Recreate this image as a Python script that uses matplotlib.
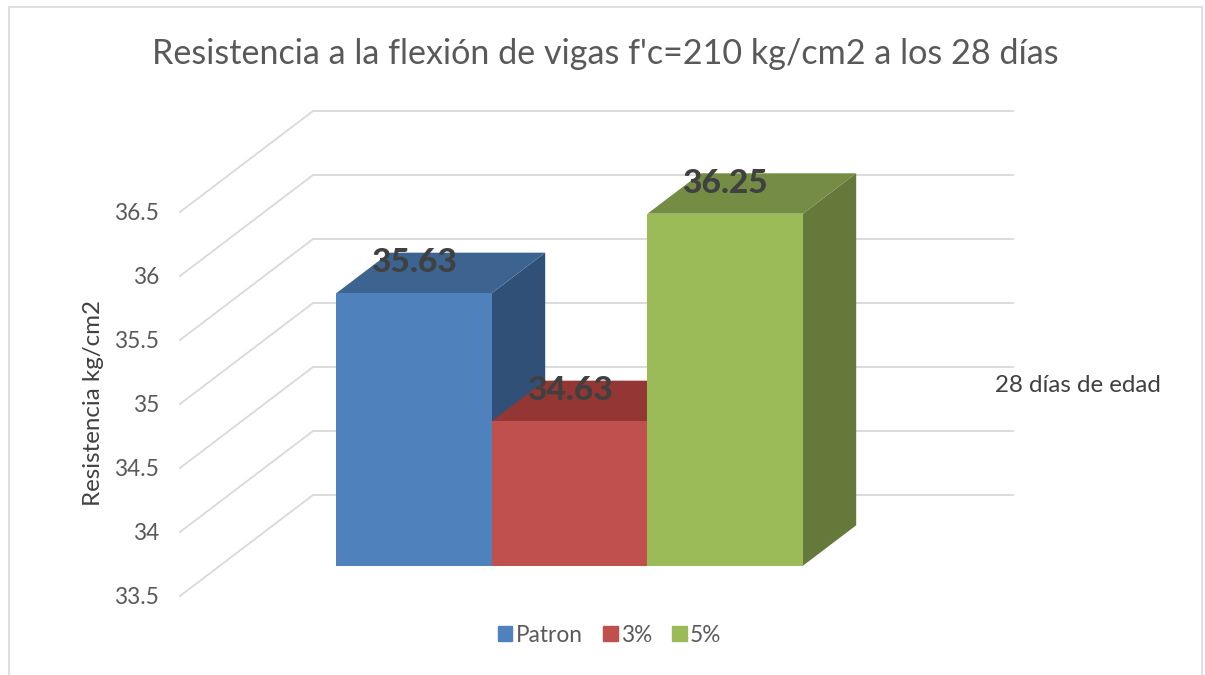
import matplotlib
matplotlib.use("Agg")
import matplotlib.pyplot as plt
from matplotlib.patches import Patch, Rectangle

plt.rcParams['font.family'] = ['Lato', 'DejaVu Sans']

title = "Resistencia a la flexión de vigas f'c=210 kg/cm2 a los 28 días"
ylabel = "Resistencia kg/cm2"
category = "28 días de edad"
series = ["Patron", "3%", "5%"]
values = [35.63, 34.63, 36.25]
labels = ["35.63", "34.63", "36.25"]
yticks = [33.5, 34, 34.5, 35, 35.5, 36, 36.5]
ytick_labels = ["33.5", "34", "34.5", "35", "35.5", "36", "36.5"]
face = ["#4F81BD", "#C0504D", "#9BBB59"]
top = ["#3D6490", "#943634", "#748C43"]
side = ["#315078", "#7A2E2C", "#657A3A"]

W, H = 1205, 675
BAR_PX, X0_PX = 155.5, 336.5
PX_PER_UNIT, V0_PY = 128.0, 596.0
DEPTH_DX, DEPTH_DV = 133 / BAR_PX, 101 / PX_PER_UNIT
WALL_L = (180 - X0_PX) / BAR_PX
WALL_R = (1013 - X0_PX) / BAR_PX
BASE = 33.5
D0, D1 = 0.3, 0.7

fig = plt.figure(figsize=(W / 100, H / 100), dpi=100)
ax = fig.add_axes([0, 0, 1, 1])
ax.set_xlim(-X0_PX / BAR_PX, (W - X0_PX) / BAR_PX)
ax.set_ylim(BASE - (H - V0_PY) / PX_PER_UNIT, BASE + V0_PY / PX_PER_UNIT)
ax.axis("off")


def fx(x, d):
    return x + d * DEPTH_DX


def bx(x, d):
    return x + (d - D0) * DEPTH_DX


def vy(v, d):
    return v + d * DEPTH_DV


GRID = "#D9D9D9"
TXT = "#595959"
for t, lab in zip(yticks, ytick_labels):
    ax.plot([WALL_L, fx(WALL_L, 1), WALL_R], [t, vy(t, 1), vy(t, 1)],
            color=GRID, lw=1.3, zorder=1, solid_joinstyle="miter")
    ax.annotate(lab, (WALL_L, t), xytext=(-21, -1), textcoords="offset pixels",
                ha="right", va="center", fontsize=16.3, color=TXT)

for i, v in enumerate(values):
    x0, x1 = i, i + 1
    ax.fill([bx(x1, D0), bx(x1, D1), bx(x1, D1), bx(x1, D0)],
            [vy(BASE, D0), vy(BASE, D1), vy(v, D1), vy(v, D0)],
            color=side[i], lw=0, zorder=2 + i)
    ax.fill([bx(x0, D0), bx(x1, D0), bx(x1, D1), bx(x0, D1)],
            [vy(v, D0), vy(v, D0), vy(v, D1), vy(v, D1)],
            color=top[i], lw=0, zorder=2 + i)
    ax.fill([x0, x1, x1, x0], [vy(BASE, D0), vy(BASE, D0), vy(v, D0), vy(v, D0)],
            color=face[i], lw=0, zorder=2 + i)

for i, (v, lab) in enumerate(zip(values, labels)):
    ax.annotate(lab, (i + 0.5, vy(v, D1)), xytext=(0, -10), textcoords="offset pixels",
                ha="center", va="center", fontsize=24, fontweight=900,
                color="#404040", zorder=10)

ax.text(1078 / W, 1 - 385 / H, category, transform=ax.transAxes, ha="center", va="center",
        fontsize=17.4, color="#404040")
ax.text(93 / W, 1 - 403 / H, ylabel, transform=ax.transAxes, rotation=90, ha="center",
        va="center", fontsize=17.4, color="#404040")
ax.text(605 / W, 1 - 54 / H, title, transform=ax.transAxes, ha="center", va="center",
        fontsize=24.6, color=TXT)

ax.add_patch(Rectangle((8.5 / W, -0.02), (1202 - 8.5) / W, 1.02 - 6.5 / H,
                       transform=ax.transAxes, fill=False, ec=GRID, lw=1.2, zorder=0,
                       clip_on=True))

handles = [Patch(color=c, label=s) for c, s in zip(face, series)]
ax.legend(handles=handles, ncol=3, loc="center", bbox_to_anchor=(609.5 / W, 1 - 635 / H),
          bbox_transform=ax.transAxes, frameon=False, fontsize=16.3, labelcolor=TXT,
          handlelength=0.66, handleheight=0.66, handletextpad=0.13, columnspacing=0.9)

fig.savefig("out.png", dpi=100)
